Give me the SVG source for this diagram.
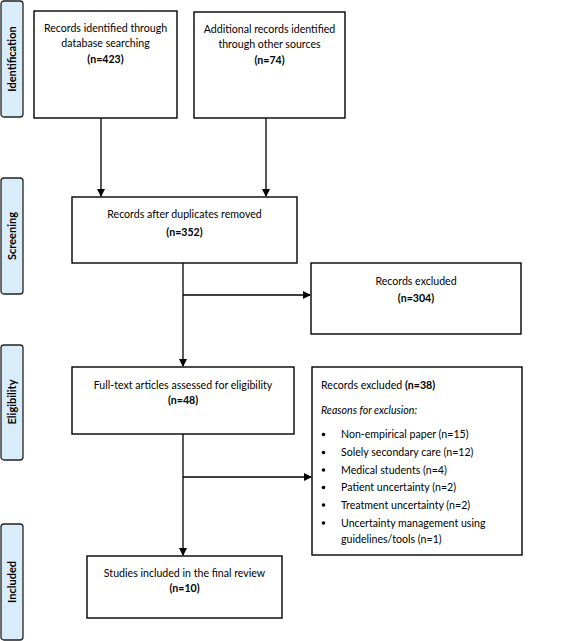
<svg xmlns="http://www.w3.org/2000/svg" width="567" height="641" viewBox="0 0 567 641">
<style>
.box{fill:#fff;stroke:#000;stroke-width:1.4}
.stage{fill:#d8ecf9;stroke:#222;stroke-width:1.3}
.t{font-family:Lato,"Liberation Sans",sans-serif;font-size:10.6px;fill:#000}
.c{text-anchor:middle}
.b{font-weight:bold}
.st{font-family:Lato,"Liberation Sans",sans-serif;font-size:11px;font-weight:bold;fill:#000;text-anchor:middle}
.ln{stroke:#000;stroke-width:1.3;fill:none}
</style>
<defs>
<marker id="ah" markerWidth="8" markerHeight="8" refX="7" refY="4" orient="auto" markerUnits="userSpaceOnUse">
<path d="M0,0 L8,4 L0,8 Z" fill="#000"/>
</marker>
</defs>
<g id="stage-identification"><rect class="stage" x="1" y="1" width="22" height="116" rx="3"/><text class="st" transform="translate(16,59) rotate(-90)">Identification</text></g>
<g id="stage-screening"><rect class="stage" x="1" y="178" width="22" height="116" rx="3"/><text class="st" transform="translate(16,236) rotate(-90)">Screening</text></g>
<g id="stage-eligibility"><rect class="stage" x="1" y="345" width="22" height="115" rx="3"/><text class="st" transform="translate(16,402) rotate(-90)">Eligibility</text></g>
<g id="stage-included"><rect class="stage" x="1" y="524" width="22" height="116" rx="3"/><text class="st" transform="translate(16,582) rotate(-90)">Included</text></g>
<g id="connectors">
<line class="ln" x1="101" y1="118" x2="101" y2="196" marker-end="url(#ah)"/>
<line class="ln" x1="266" y1="118" x2="266" y2="196" marker-end="url(#ah)"/>
<line class="ln" x1="183" y1="263" x2="183" y2="366" marker-end="url(#ah)"/>
<line class="ln" x1="183" y1="295" x2="310" y2="295" marker-end="url(#ah)"/>
<line class="ln" x1="183" y1="434" x2="183" y2="555" marker-end="url(#ah)"/>
<line class="ln" x1="183" y1="477" x2="311" y2="477" marker-end="url(#ah)"/>
</g>
<g id="db-search"><rect class="box" x="34" y="11" width="143" height="107"/>
<text class="t c" x="105.5" y="32">Records identified through</text>
<text class="t c" x="105.5" y="47">database searching</text>
<text class="t c b" x="105.5" y="63">(n=423)</text></g>
<g id="other-sources"><rect class="box" x="194" y="12" width="151" height="106"/>
<text class="t c" x="269.5" y="33">Additional records identified</text>
<text class="t c" x="269.5" y="48">through other sources</text>
<text class="t c b" x="269.5" y="64">(n=74)</text></g>
<g id="after-duplicates"><rect class="box" x="72" y="197" width="225" height="66"/>
<text class="t c" x="184.5" y="218">Records after duplicates removed</text>
<text class="t c b" x="184.5" y="236">(n=352)</text></g>
<g id="excluded-304"><rect class="box" x="311" y="263" width="210" height="71"/>
<text class="t c" x="416" y="285">Records excluded</text>
<text class="t c b" x="416" y="302">(n=304)</text></g>
<g id="full-text"><rect class="box" x="72" y="367" width="222" height="67"/>
<text class="t c" x="183" y="389">Full-text articles assessed for eligibility</text>
<text class="t c b" x="183" y="404">(n=48)</text></g>
<g id="excluded-38"><rect class="box" x="312" y="367" width="210" height="188"/>
<text class="t" x="321" y="389">Records excluded <tspan class="b">(n=38)</tspan></text>
<text class="t" x="321" y="414" font-style="italic">Reasons for exclusion:</text>
<g class="t">
<circle cx="323.5" cy="434.5" r="1.8"/><text class="t" x="341" y="438">Non-empirical paper (n=15)</text>
<circle cx="323.5" cy="452.5" r="1.8"/><text class="t" x="341" y="456">Solely secondary care (n=12)</text>
<circle cx="323.5" cy="470" r="1.8"/><text class="t" x="341" y="474">Medical students (n=4)</text>
<circle cx="323.5" cy="487.5" r="1.8"/><text class="t" x="341" y="491">Patient uncertainty (n=2)</text>
<circle cx="323.5" cy="505" r="1.8"/><text class="t" x="341" y="509">Treatment uncertainty (n=2)</text>
<circle cx="323.5" cy="523" r="1.8"/><text class="t" x="341" y="527">Uncertainty management using</text>
<text class="t" x="341" y="543">guidelines/tools (n=1)</text>
</g></g>
<g id="included"><rect class="box" x="87" y="556" width="195" height="62"/>
<text class="t c" x="184.5" y="577">Studies included in the final review</text>
<text class="t c b" x="184.5" y="592">(n=10)</text></g>
</svg>
